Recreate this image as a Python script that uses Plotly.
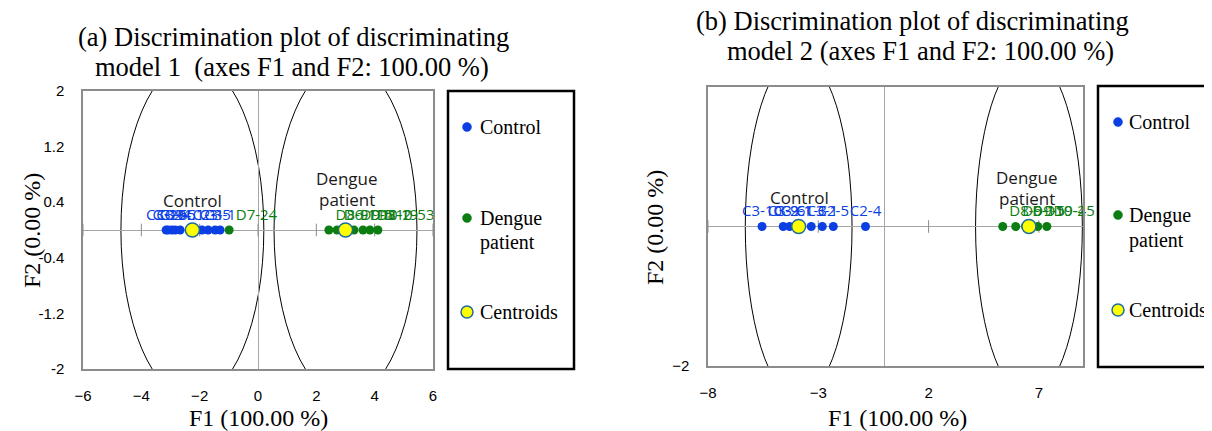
import plotly.graph_objects as go

W, H = 1212, 431
OFF = 8  # page body margin of the rendered html

# ---------------- data: model 1 ----------------
m1_control_f1 = [-3.15, -3.08, -2.95, -2.84, -2.67, -1.92, -1.71, -1.47, -1.30]
m1_control_f2 = [0.0, 0.0, 0.0, 0.0, 0.0, 0.0, 0.0, 0.0, 0.0]
m1_control_lbl = ["C3-10", "C3-9", "C3-6", "C2-4", "C2-5", "C1-3", "C2-1", "C1-5", "C3-1"]
m1_dengue_f1 = [-0.99, 2.43, 2.71, 3.29, 3.60, 3.84, 4.11]
m1_dengue_f2 = [0.0, 0.0, 0.0, 0.0, 0.0, 0.0, 0.0]
m1_dengue_lbl = ["D7-24", "D8-9", "D6-11", "D9-5", "D10-2", "D8-19", "D10-53"]
m1_centroid_f1 = [-2.25, 3.00]
m1_centroid_f2 = [0.0, 0.0]
m1_ellipse_rx = [2.45, 2.45]
m1_ellipse_ry = [2.42, 2.42]
m1_xticks = [-6, -4, -2, 0, 2, 4, 6]
m1_yticks = [-2, -1.2, -0.4, 0.4, 1.2, 2]

# ---------------- data: model 2 ----------------
m2_control_f1 = [-5.55, -4.59, -4.30, -4.00, -3.32, -2.82, -2.32, -0.86]
m2_control_f2 = [0.0, 0.0, 0.0, 0.0, 0.0, 0.0, 0.0, 0.0]
m2_control_lbl = ["C3-10", "C3-9", "C3-6", "C2-1", "C1-3", "C3-1", "C2-5", "C2-4"]
m2_dengue_f1 = [5.36, 5.95, 6.40, 6.95, 7.36]
m2_dengue_f2 = [0.0, 0.0, 0.0, 0.0, 0.0]
m2_dengue_lbl = ["D8-9", "D6-11", "D9-5", "D10-2", "D9-45"]
m2_centroid_f1 = [-3.89, 6.55]
m2_centroid_f2 = [0.0, 0.0]
m2_ellipse_rx = [2.42, 2.42]
m2_ellipse_ry = [2.45, 2.45]
m2_xticks = [-8, -3, 2, 7]
m2_yticks = [-2]

BLUE = "#0b3fe3"
GREEN = "#0b7d12"
YEL = "#ffff00"
CEN_EDGE = "#1d6c9e"
GRAY = "#8c8c8c"
SERIF = "Liberation Serif, Times New Roman, serif"
SANS = "Liberation Sans, Arial, sans-serif"
LBL = "Open Sans, sans-serif"


def px(x):
    return (x - OFF) / W


def py(y):
    return 1 - (y - OFF) / H


fig = go.Figure()


def add_panel(xr, yr, cf1, cf2, clbl, df1, df2, dlbl, cenx, ceny, xticks):
    # tick marks crossing the zero line (Excel style)
    fig.add_trace(go.Scatter(
        x=list(xticks), y=[0.0 for _ in xticks], mode="markers",
        marker=dict(symbol="line-ns-open", size=9, color=GRAY, line=dict(color=GRAY, width=1)),
        xaxis=xr, yaxis=yr, showlegend=False, hoverinfo="skip"))
    fig.add_trace(go.Scatter(
        x=cf1, y=cf2, mode="markers+text", text=clbl, textposition="top center",
        textfont=dict(family=LBL, size=15, color=BLUE),
        marker=dict(color=BLUE, size=9), xaxis=xr, yaxis=yr,
        name="Control", showlegend=False, cliponaxis=False))
    fig.add_trace(go.Scatter(
        x=df1, y=df2, mode="markers+text", text=dlbl, textposition="top right",
        textfont=dict(family=LBL, size=15, color=GREEN),
        marker=dict(color=GREEN, size=9), xaxis=xr, yaxis=yr,
        name="Dengue patient", showlegend=False, cliponaxis=False))
    fig.add_trace(go.Scatter(
        x=cenx, y=ceny, mode="markers",
        marker=dict(color=YEL, size=14, line=dict(color=CEN_EDGE, width=1.5)),
        xaxis=xr, yaxis=yr, name="Centroids", showlegend=False))


add_panel("x", "y", m1_control_f1, m1_control_f2, m1_control_lbl,
          m1_dengue_f1, m1_dengue_f2, m1_dengue_lbl, m1_centroid_f1, m1_centroid_f2, m1_xticks)
add_panel("x2", "y2", m2_control_f1, m2_control_f2, m2_control_lbl,
          m2_dengue_f1, m2_dengue_f2, m2_dengue_lbl, m2_centroid_f1, m2_centroid_f2, m2_xticks)

shapes = []
for cx, cy, rx, ry in zip(m1_centroid_f1, m1_centroid_f2, m1_ellipse_rx, m1_ellipse_ry):
    shapes.append(dict(type="circle", xref="x", yref="y", x0=cx - rx, x1=cx + rx,
                       y0=cy - ry, y1=cy + ry, line=dict(color="black", width=1), layer="below"))
for cx, cy, rx, ry in zip(m2_centroid_f1, m2_centroid_f2, m2_ellipse_rx, m2_ellipse_ry):
    shapes.append(dict(type="circle", xref="x2", yref="y2", x0=cx - rx, x1=cx + rx,
                       y0=cy - ry, y1=cy + ry, line=dict(color="black", width=1), layer="below"))

# legend boxes
legend_boxes = [(448, 91, 574, 369), (1098, 86, 1222, 367)]
for x0, y0, x1, y1 in legend_boxes:
    shapes.append(dict(type="rect", xref="paper", yref="paper", x0=px(x0), x1=px(x1),
                       y0=py(y0), y1=py(y1), line=dict(color="black", width=2.5)))

annotations = []
legend_items = [
    # (marker x, text x, control y, dengue y1, dengue y2, centroid y)
    (467, 478, 127, 218, 243, 312),
    (1118, 1127, 122, 215, 240, 310),
]
for mx, tx, yc, yd1, yd2, ycen in legend_items:
    for (yy, col, sz, edge) in [(yc, BLUE, 9, BLUE), (yd1, GREEN, 9, GREEN), (ycen, YEL, 12, CEN_EDGE)]:
        shapes.append(dict(type="circle", xref="paper", yref="paper", xsizemode="pixel", ysizemode="pixel",
                           xanchor=px(mx), yanchor=py(yy), x0=-sz / 2, x1=sz / 2, y0=-sz / 2, y1=sz / 2,
                           fillcolor=col, line=dict(color=edge, width=1.5 if col == YEL else 0.5)))
    for txt, yy in [("Control", yc), ("Dengue", yd1), ("patient", yd2), ("Centroids", ycen)]:
        annotations.append(dict(text=txt, x=px(tx), y=py(yy), xref="paper", yref="paper",
                                xanchor="left", yanchor="middle", showarrow=False,
                                font=dict(family=SERIF, size=20, color="black")))

# titles
for txt, cx, cy in [("(a) Discrimination plot of discriminating", 293, 37),
                    ("model 1  (axes F1 and F2: 100.00 %)", 292, 67),
                    ("(b) Discrimination plot of discriminating", 912, 21),
                    ("model 2 (axes F1 and F2: 100.00 %)", 920, 51)]:
    annotations.append(dict(text=txt, x=px(cx), y=py(cy), xref="paper", yref="paper",
                            xanchor="center", yanchor="middle", showarrow=False,
                            font=dict(family=SERIF, size=26.5, color="black")))

# axis titles
for txt, cx, cy, ang in [("F1 (100.00 %)", 258, 418, 0), ("F1 (100.00 %)", 897, 418, 0),
                         ("F2 (0.00 %)", 32, 231, -90), ("F2 (0.00 %)", 655, 228, -90)]:
    annotations.append(dict(text=txt, x=px(cx), y=py(cy), xref="paper", yref="paper",
                            xanchor="center", yanchor="middle", showarrow=False, textangle=ang,
                            font=dict(family=SERIF, size=24, color="black")))

# group labels inside plots
for txt, cx, cy in [("Control", 193, 201), ("Dengue", 347, 178), ("patient", 347, 199),
                    ("Control", 799, 197), ("Dengue", 1027, 177), ("patient", 1027, 198)]:
    annotations.append(dict(text=txt, x=px(cx), y=py(cy), xref="paper", yref="paper",
                            xanchor="center", yanchor="middle", showarrow=False,
                            font=dict(family=LBL, size=17, color="#1a1a1a")))

axis_common = dict(showgrid=False, zeroline=True, zerolinecolor="#a6a6a6", zerolinewidth=1,
                   showline=True, mirror=True, linecolor=GRAY, linewidth=1.5, ticks="",
                   automargin=False,
                   tickfont=dict(family=SANS, size=15, color="black"))

fig.update_layout(
    width=W, height=H, margin=dict(l=0, r=0, t=0, b=0, pad=0, autoexpand=False),
    paper_bgcolor="white", plot_bgcolor="white", showlegend=False,
    xaxis=dict(domain=[px(83), px(433)], range=[-6, 6], tickvals=m1_xticks,
               anchor="y", ticklabelstandoff=12, **axis_common),
    yaxis=dict(domain=[py(369), py(91)], range=[-2, 2], tickvals=m1_yticks,
               ticktext=[f"{v:g}" for v in m1_yticks], anchor="x", ticklabelstandoff=14, **axis_common),
    xaxis2=dict(domain=[px(708), px(1083)], range=[-8, 9], tickvals=m2_xticks,
                anchor="y2", ticklabelstandoff=12, **axis_common),
    yaxis2=dict(domain=[py(366), py(87)], range=[-2, 2], tickvals=m2_yticks,
                anchor="x2", ticklabelstandoff=14, **axis_common),
    shapes=shapes, annotations=annotations,
)

fig.write_html("out.html")
